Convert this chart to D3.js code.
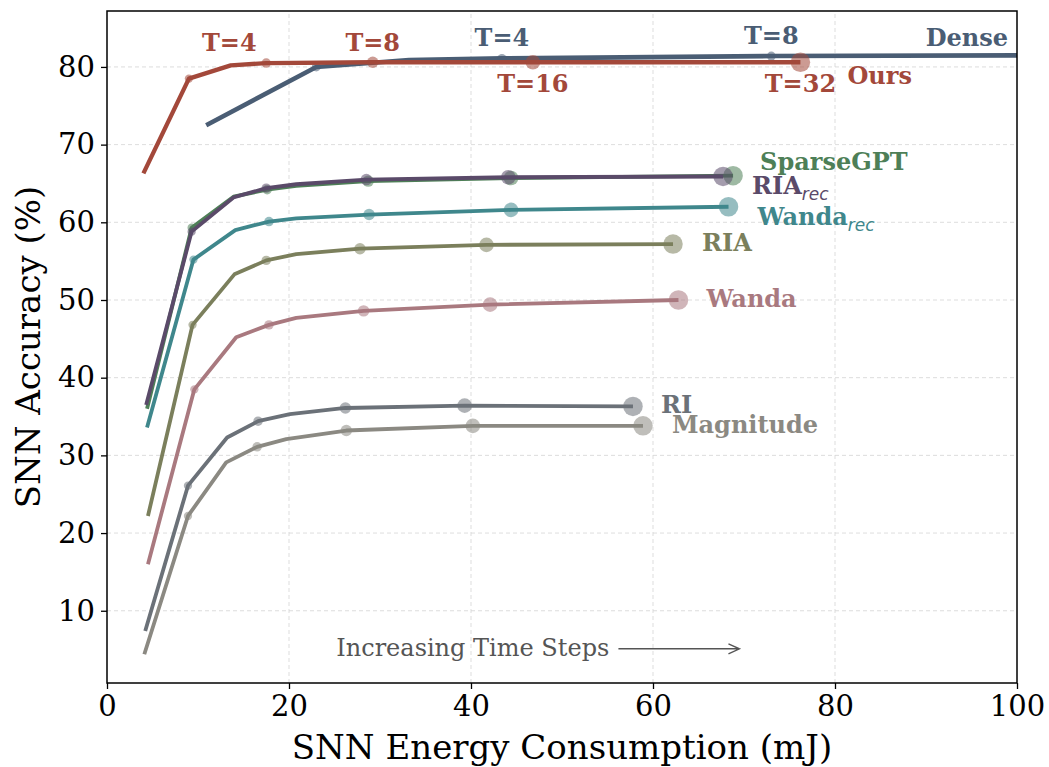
<!DOCTYPE html>
<html>
<head>
<meta charset="utf-8">
<script src="https://cdn.jsdelivr.net/npm/d3@7"></script>
<style>
    body { margin: 0; background: #fff; }
    svg { display: block; }
    text { font-family: 'DejaVu Serif', serif; }
</style>
</head>
<body>
<svg id="chart" width="1049" height="767"></svg>
<script>
// Time steps behind each point of the curves
const timeSteps = [1, 2, 3, 4, 5, 8, 16, 32];
const oursSteps = [1, 2, 3, 4, 8, 16, 32];
const denseSteps = [1, 2, 3, 4, 8, 12];

// Energy (mJ) and accuracy (%) per method
const oursEnergy = [4.0, 9.0, 13.6, 17.5, 29.2, 46.8, 76.2];
const oursAcc = [66.3, 78.5, 80.2, 80.5, 80.6, 80.6, 80.6];
const denseEnergy = [10.9, 23.0, 33.2, 43.4, 73.0, 103.0];
const denseAcc = [72.5, 80.0, 80.9, 81.1, 81.4, 81.5];
const sparsegptEnergy = [4.4, 9.3, 13.9, 17.6, 20.8, 28.7, 44.4, 68.8];
const sparsegptAcc = [36.0, 59.3, 63.3, 64.2, 64.7, 65.3, 65.7, 66.0];
const riaRecEnergy = [4.3, 9.3, 13.9, 17.5, 20.8, 28.5, 44.1, 67.7];
const riaRecAcc = [36.5, 58.8, 63.2, 64.4, 64.9, 65.5, 65.8, 65.9];
const wandaRecEnergy = [4.4, 9.5, 14.1, 17.8, 20.8, 28.8, 44.4, 68.3];
const wandaRecAcc = [33.6, 55.2, 59.0, 60.1, 60.5, 61.0, 61.6, 62.0];
const riaEnergy = [4.5, 9.4, 14.0, 17.5, 20.8, 27.8, 41.7, 62.2];
const riaAcc = [22.2, 46.8, 53.3, 55.1, 55.9, 56.6, 57.1, 57.2];
const wandaEnergy = [4.5, 9.6, 14.2, 17.8, 20.8, 28.2, 42.1, 62.8];
const wandaAcc = [16.0, 38.5, 45.2, 46.8, 47.7, 48.6, 49.4, 50.0];
const riEnergy = [4.2, 8.9, 13.2, 16.6, 20.1, 26.2, 39.3, 57.8];
const riAcc = [7.4, 26.1, 32.3, 34.4, 35.3, 36.1, 36.4, 36.3];
const magnitudeEnergy = [4.1, 8.9, 13.1, 16.5, 19.7, 26.3, 40.2, 58.9];
const magnitudeAcc = [4.4, 22.2, 29.1, 31.1, 32.1, 33.2, 33.8, 33.8];

// Axis ticks
const xTicks = [0, 20, 40, 60, 80, 100];
const yTicks = [10, 20, 30, 40, 50, 60, 70, 80];

// Build series (drawing order: back to front)
function makeSeries(name, sub, energy, acc, steps, color, labelDx, labelDy) {
    return {
        name, sub, color, labelDx, labelDy,
        points: energy.map((e, i) => ({ x: e, y: acc[i], t: steps[i] }))
    };
}

const series = [
    makeSeries('Magnitude', '', magnitudeEnergy, magnitudeAcc, timeSteps, '#8b8982', 29, 7),
    makeSeries('RI', '', riEnergy, riAcc, timeSteps, '#6b7178', 28, 7),
    makeSeries('Wanda', '', wandaEnergy, wandaAcc, timeSteps, '#a9797f', 28, 7),
    makeSeries('RIA', '', riaEnergy, riaAcc, timeSteps, '#7b7f5c', 29, 7),
    makeSeries('Wanda', 'rec', wandaRecEnergy, wandaRecAcc, timeSteps, '#3f878c', 29, 18),
    makeSeries('SparseGPT', '', sparsegptEnergy, sparsegptAcc, timeSteps, '#4e7f57', 27, -6),
    makeSeries('RIA', 'rec', riaRecEnergy, riaRecAcc, timeSteps, '#5a4a69', 29, 18)
];
const ours = makeSeries('Ours', '', oursEnergy, oursAcc, oursSteps, '#a3483a', 47, 22);
const dense = makeSeries('Dense', '', denseEnergy, denseAcc, denseSteps, '#4a5d74', 0, 0);

const width = 1049, height = 767;
const margin = { top: 11, right: 32, bottom: 84, left: 107 };

const svg = d3.select('#chart');
svg.append('rect').attr('width', width).attr('height', height).attr('fill', '#fff');

const x = d3.scaleLinear().domain([0, 100]).range([margin.left, width - margin.right]);
const y = d3.scaleLinear().domain([0.7, 87.2]).range([height - margin.bottom, margin.top]);

// marker radius grows with time steps
const markerR = t => Math.sqrt(12 + 2.6 * t);

svg.append('clipPath').attr('id', 'plot-clip')
    .append('rect')
    .attr('x', margin.left).attr('y', margin.top)
    .attr('width', x(100) - x(0)).attr('height', y.range()[0] - y.range()[1]);

// Grid
const grid = svg.append('g').attr('stroke', '#d4d4d4').attr('stroke-width', 0.8).attr('stroke-dasharray', '4,3');
grid.selectAll('.gx').data(xTicks.slice(1, -1)).enter().append('line')
    .attr('x1', d => x(d)).attr('x2', d => x(d))
    .attr('y1', y.range()[0]).attr('y2', y.range()[1]);
grid.selectAll('.gy').data(yTicks).enter().append('line')
    .attr('x1', x(0)).attr('x2', x(100))
    .attr('y1', d => y(d)).attr('y2', d => y(d));

const line = d3.line().x(d => x(d.x)).y(d => y(d.y));
const plot = svg.append('g').attr('clip-path', 'url(#plot-clip)');

function drawSeries(s, width, markerSteps, fixedR) {
    plot.append('path')
        .datum(s.points)
        .attr('fill', 'none')
        .attr('stroke', s.color)
        .attr('stroke-width', width)
        .attr('stroke-linejoin', 'round')
        .attr('d', line);
    plot.selectAll(null)
        .data(s.points.filter(p => markerSteps.includes(p.t)))
        .enter().append('circle')
        .attr('cx', d => x(d.x))
        .attr('cy', d => y(d.y))
        .attr('r', d => fixedR || markerR(d.t))
        .attr('fill', s.color)
        .attr('fill-opacity', 0.55);
}

series.forEach(s => drawSeries(s, 3.8, [2, 4, 8, 16, 32]));
drawSeries(dense, 4.6, [2, 4, 8], 4.5);
drawSeries(ours, 4.3, [2, 4, 8, 16, 32]);

// End-of-line labels
const labelG = svg.append('g').attr('font-weight', 'bold').attr('font-size', 24);
series.concat([ours]).forEach(s => {
    const last = s.points[s.points.length - 1];
    const t = labelG.append('text')
        .attr('x', x(last.x) + s.labelDx)
        .attr('y', y(last.y) + s.labelDy)
        .attr('fill', s.color)
        .text(s.name);
    if (s.sub) {
        t.append('tspan')
            .attr('dy', 6)
            .attr('font-family', 'DejaVu Sans')
            .attr('font-style', 'italic')
            .attr('font-weight', 'normal')
            .attr('font-size', 17)
            .text(s.sub);
    }
});
labelG.append('text')
    .attr('x', x(100) - 9)
    .attr('y', y(81.5) - 9)
    .attr('text-anchor', 'end')
    .attr('fill', dense.color)
    .text('Dense');

// Time step annotations
const stepLabels = [
    { s: ours, t: 4, dx: -37, dy: -12 },
    { s: ours, t: 8, dx: 0, dy: -11 },
    { s: ours, t: 16, dx: 0, dy: 30 },
    { s: ours, t: 32, dx: 0, dy: 30 },
    { s: dense, t: 4, dx: 0, dy: -12 },
    { s: dense, t: 8, dx: 0, dy: -12 }
];
stepLabels.forEach(l => {
    const p = l.s.points.find(d => d.t === l.t);
    labelG.append('text')
        .attr('x', x(p.x) + l.dx)
        .attr('y', y(p.y) + l.dy)
        .attr('text-anchor', 'middle')
        .attr('fill', l.s.color)
        .text('T=' + l.t);
});

// "Increasing Time Steps" arrow
svg.append('text')
    .attr('x', x(55.2)).attr('y', y(4.2))
    .attr('text-anchor', 'end')
    .attr('font-size', 24)
    .attr('fill', '#555')
    .text('Increasing Time Steps');
const arrowY = y(5.1);
svg.append('path')
    .attr('d', `M${x(56.2)},${arrowY}H${x(69.5)}M${x(69.5) - 11},${arrowY - 5}L${x(69.5)},${arrowY}L${x(69.5) - 11},${arrowY + 5}`)
    .attr('fill', 'none')
    .attr('stroke', '#555')
    .attr('stroke-width', 1.4);

// Axes
const xAxis = svg.append('g')
    .attr('transform', `translate(0,${y.range()[0]})`)
    .call(d3.axisBottom(x).tickValues(xTicks).tickSize(6).tickPadding(6).tickFormat(d3.format('d')));
const yAxis = svg.append('g')
    .attr('transform', `translate(${margin.left},0)`)
    .call(d3.axisLeft(y).tickValues(yTicks).tickSize(6).tickPadding(6).tickFormat(d3.format('d')));
[xAxis, yAxis].forEach(a => {
    a.select('.domain').remove();
    a.selectAll('.tick line').attr('stroke', '#000').attr('stroke-width', 1.3);
    a.selectAll('.tick text').attr('font-family', 'DejaVu Serif').attr('font-size', 29).attr('fill', '#000');
});

// Frame
svg.append('rect')
    .attr('x', x(0)).attr('y', y.range()[1])
    .attr('width', x(100) - x(0)).attr('height', y.range()[0] - y.range()[1])
    .attr('fill', 'none').attr('stroke', '#000').attr('stroke-width', 1.5);

// Axis titles
svg.append('text')
    .attr('x', (x(0) + x(100)) / 2).attr('y', 759)
    .attr('text-anchor', 'middle')
    .attr('font-size', 34)
    .text('SNN Energy Consumption (mJ)');
svg.append('text')
    .attr('transform', `translate(40,${(y.range()[0] + y.range()[1]) / 2}) rotate(-90)`)
    .attr('text-anchor', 'middle')
    .attr('font-size', 34)
    .text('SNN Accuracy (%)');
</script>
</body>
</html>
